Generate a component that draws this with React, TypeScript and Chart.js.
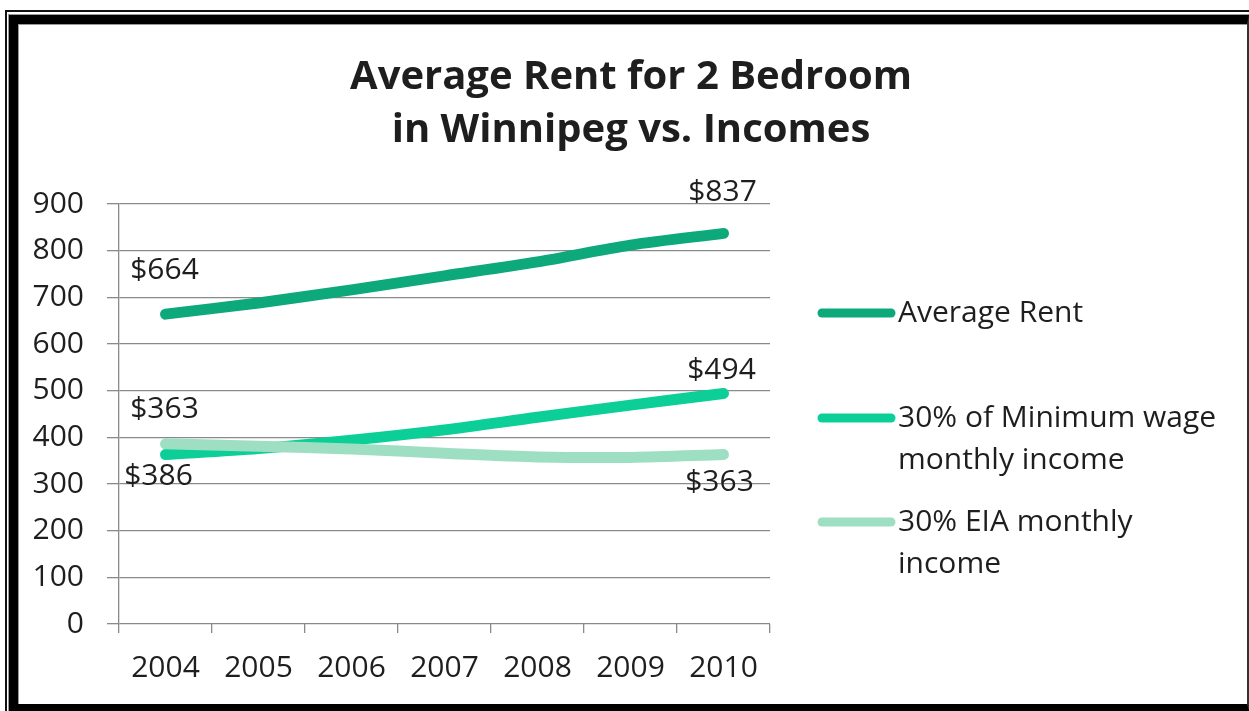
import React, { useEffect, useRef } from 'react';
import { Chart, registerables } from 'chart.js';

Chart.register(...registerables);

// ---- data ----
const years = ['2004', '2005', '2006', '2007', '2008', '2009', '2010'];
const averageRent = [664, 688, 716, 746, 776, 812, 837];
const minWage30 = [363, 376, 394, 416, 443, 469, 494];
const eia30 = [386, 381, 375, 366, 358, 357, 363];
const seriesNames = ['Average Rent', '30% of Minimum wage monthly income', '30% EIA monthly income'];
const legendLines = [['Average Rent'], ['30% of Minimum wage', 'monthly income'], ['30% EIA monthly', 'income']];
const titleLines = ['Average Rent for 2 Bedroom', 'in Winnipeg vs. Incomes'];
const yMin = 0;
const yMax = 900;
const yStep = 100;

// ---- styles ----
const colors = ['#0ea97b', '#0ccf98', '#9edfc3'];
const FONT = '"Open Sans", Lato, sans-serif';
const TEXT = '#1e1e1e';
const FS = 30;

// data labels: which point of which series, and offsets
const labelSpecs = [
  { ds: 0, idx: 0, dx: -1, dy: -44 },
  { ds: 0, idx: 6, dx: -1, dy: -41 },
  { ds: 1, idx: 0, dx: -1, dy: -45 },
  { ds: 1, idx: 6, dx: -2, dy: -23 },
  { ds: 2, idx: 0, dx: -7, dy: 33 },
  { ds: 2, idx: 6, dx: -4, dy: 28 },
];

const overlayPlugin = {
  id: 'overlay',
  afterDatasetsDraw(chart: any) {
    const ctx = chart.ctx;
    const datasets = [averageRent, minWage30, eia30];
    ctx.save();
    // data labels
    ctx.font = `${FS}px ${FONT}`;
    ctx.fillStyle = TEXT;
    ctx.textAlign = 'center';
    ctx.textBaseline = 'middle';
    labelSpecs.forEach((s) => {
      const pt = chart.getDatasetMeta(s.ds).data[s.idx];
      ctx.fillText('$' + datasets[s.ds][s.idx], pt.x + s.dx, pt.y + s.dy);
    });
    // title
    ctx.font = `bold 40px ${FONT}`;
    ctx.textBaseline = 'alphabetic';
    ctx.fillText(titleLines[0], 631, 89);
    ctx.fillText(titleLines[1], 631, 142);
    // legend
    const rowY = [313, 418, 522];
    ctx.textAlign = 'left';
    ctx.textBaseline = 'middle';
    ctx.font = `${FS}px ${FONT}`;
    legendLines.forEach((lines, i) => {
      ctx.strokeStyle = colors[i];
      ctx.lineWidth = 9;
      ctx.lineCap = 'round';
      ctx.beginPath();
      ctx.moveTo(822, rowY[i]);
      ctx.lineTo(891, rowY[i]);
      ctx.stroke();
      lines.forEach((t, j) => {
        ctx.fillText(t, 898, rowY[i] + j * 42);
      });
    });
    ctx.restore();
  },
};

export default function App() {
  const ref = useRef<HTMLCanvasElement>(null);

  useEffect(() => {
    document.body.style.margin = '0';
    const canvas = ref.current!;
    const chart = new Chart(canvas, {
      type: 'line',
      data: {
        labels: years,
        datasets: [averageRent, minWage30, eia30].map((d, i) => ({
          label: seriesNames[i],
          data: d,
          borderColor: colors[i],
          backgroundColor: colors[i],
          borderWidth: 11,
          borderCapStyle: 'round',
          borderJoinStyle: 'round',
          pointRadius: 0,
          tension: 0.3,
          fill: false,
          order: 2 - i,
        })),
      },
      options: {
        responsive: false,
        animation: false,
        layout: { padding: { top: 204, right: 479, left: 0, bottom: 0 } },
        plugins: {
          legend: { display: false },
          title: { display: false },
          tooltip: { enabled: false },
        },
        scales: {
          x: {
            type: 'category',
            offset: true,
            grid: {
              offset: true,
              drawOnChartArea: false,
              drawTicks: true,
              tickLength: 9,
              color: '#8a8a8a',
              lineWidth: 1.3,
            },
            border: { display: false },
            ticks: { color: TEXT, font: { family: FONT, size: FS }, padding: 17, maxRotation: 0 },
            afterFit(scale: any) {
              scale.height = 87;
            },
          },
          y: {
            min: yMin,
            max: yMax,
            ticks: { stepSize: yStep, color: TEXT, font: { family: FONT, size: FS }, padding: 23 },
            grid: { color: '#8a8a8a', lineWidth: 1.3, tickLength: 12 },
            border: { display: true, color: '#8a8a8a', width: 1.3 },
            afterFit(scale: any) {
              scale.width = 119;
            },
          },
        },
      },
      plugins: [overlayPlugin],
    } as any);
    return () => chart.destroy();
  }, []);

  return (
    <div style={{ position: 'relative', width: 1249, height: 711, background: '#fff', overflow: 'hidden' }}>
      <canvas ref={ref} width={1249} height={711} style={{ position: 'absolute', left: 0, top: 0 }} />
      <div style={{ position: 'absolute', left: 5, top: 10, right: 0, bottom: 0, borderLeft: '2px solid #111', borderTop: '2px solid #111' }} />
      <div style={{ position: 'absolute', left: 8, top: 14, right: 0, bottom: 0, borderLeft: '1px solid #999', borderTop: '1px solid #999' }} />
      <div style={{ position: 'absolute', left: 9, top: 15, right: 0, bottom: 0, borderLeft: '9px solid #000', borderTop: '9px solid #000', borderBottom: '7px solid #000', borderRight: '2px solid #333' }} />
      <div style={{ position: 'absolute', left: 18, top: 24, right: 2, bottom: 7, borderLeft: '1px solid #999', borderTop: '1px solid #999' }} />
    </div>
  );
}
